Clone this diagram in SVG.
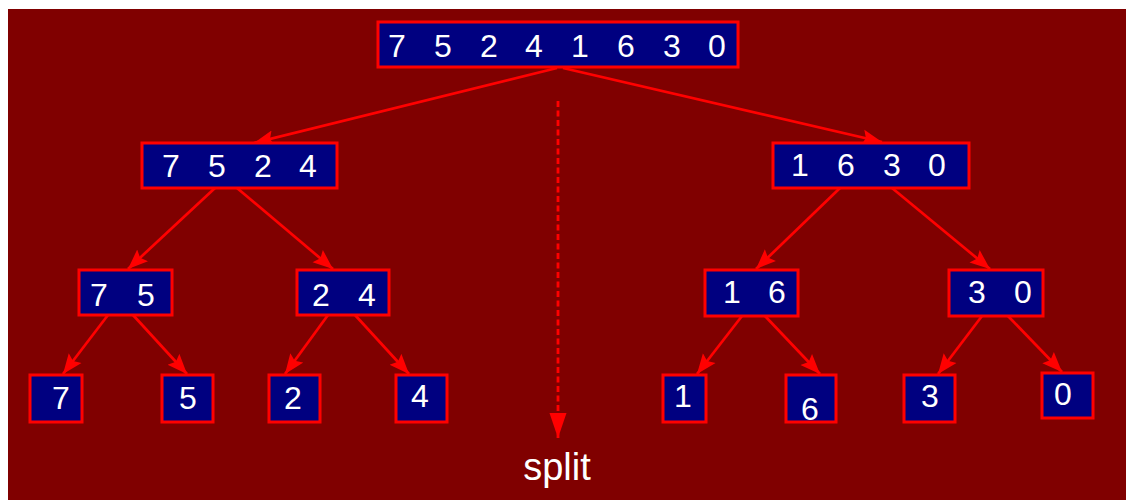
<svg xmlns="http://www.w3.org/2000/svg" width="1126" height="500" viewBox="0 0 1126 500">
<style>
.box{fill:#000080;stroke:#ff0000;stroke-width:3}
.t{font-family:"Liberation Sans",Arial,sans-serif;font-size:32px;fill:#ffffff;text-anchor:middle}
.c{stroke:#ff0000;stroke-width:2.7;fill:none}
.d{stroke:#ff0000;stroke-width:2.8;fill:none;stroke-dasharray:6 3.5}
</style>
<defs>
<marker id="ah" markerUnits="userSpaceOnUse" markerWidth="21" markerHeight="18" refX="20" refY="8.5" orient="auto" viewBox="0 0 21 18">
<path d="M0,0.5 L20,8.5 L0,16.5 L3.5,8.5 z" fill="#ff0000"/>
</marker>
<marker id="ahd" markerUnits="userSpaceOnUse" markerWidth="26" markerHeight="20" refX="25" refY="9" orient="auto" viewBox="0 0 26 20">
<path d="M0,0.5 L25,9 L0,17.5 z" fill="#ff0000"/>
</marker>
</defs>
<rect x="8" y="9" width="1118" height="491" fill="#800000"/>
<g id="connectors">
<line class="c" x1="557" y1="68" x2="254" y2="143" marker-end="url(#ah)"/>
<line class="c" x1="563" y1="68" x2="882" y2="142" marker-end="url(#ah)"/>
<line class="c" x1="215" y1="188" x2="128" y2="269" marker-end="url(#ah)"/>
<line class="c" x1="237" y1="188" x2="333" y2="269" marker-end="url(#ah)"/>
<line class="c" x1="840" y1="188" x2="756" y2="269" marker-end="url(#ah)"/>
<line class="c" x1="892" y1="188" x2="990" y2="269" marker-end="url(#ah)"/>
<line class="c" x1="108" y1="315" x2="63" y2="374" marker-end="url(#ah)"/>
<line class="c" x1="133" y1="315" x2="187" y2="374" marker-end="url(#ah)"/>
<line class="c" x1="328" y1="315" x2="285" y2="374" marker-end="url(#ah)"/>
<line class="c" x1="355" y1="315" x2="409" y2="374" marker-end="url(#ah)"/>
<line class="c" x1="742" y1="316" x2="697" y2="374" marker-end="url(#ah)"/>
<line class="c" x1="765" y1="316" x2="820" y2="374" marker-end="url(#ah)"/>
<line class="c" x1="982" y1="316" x2="938" y2="374" marker-end="url(#ah)"/>
<line class="c" x1="1008" y1="316" x2="1062" y2="372" marker-end="url(#ah)"/>
<line class="d" x1="558" y1="101" x2="558" y2="438" marker-end="url(#ahd)"/>
</g>
<g id="n0"><rect class="box" x="378" y="22" width="360" height="45"/><text class="t" x="397 420 443 466 489 511 534 557 580 603 626 649 672 694 717" y="57">7 5 2 4 1 6 3 0</text></g>
<g id="n1"><rect class="box" x="142" y="143" width="195" height="45"/><text class="t" x="171 194 217 240 263 285 308" y="177">7 5 2 4</text></g>
<g id="n2"><rect class="box" x="773" y="143" width="196" height="45"/><text class="t" x="800 823 846 869 892 914 937" y="176">1 6 3 0</text></g>
<g id="n3"><rect class="box" x="79" y="270" width="93" height="45"/><text class="t" x="99 122 146" y="306">7 5</text></g>
<g id="n4"><rect class="box" x="297" y="270" width="92" height="45"/><text class="t" x="321 344 367" y="306">2 4</text></g>
<g id="n5"><rect class="box" x="705" y="270" width="93" height="46"/><text class="t" x="732 754 777" y="303">1 6</text></g>
<g id="n6"><rect class="box" x="949" y="270" width="94" height="46"/><text class="t" x="977 1000 1023" y="303">3 0</text></g>
<g id="l7"><rect class="box" x="30" y="375" width="52" height="47"/><text class="t" x="61" y="409">7</text></g>
<g id="l5"><rect class="box" x="162" y="375" width="51" height="47"/><text class="t" x="188" y="409">5</text></g>
<g id="l2"><rect class="box" x="269" y="375" width="51" height="47"/><text class="t" x="293" y="409">2</text></g>
<g id="l4"><rect class="box" x="396" y="375" width="51" height="47"/><text class="t" x="420" y="407">4</text></g>
<g id="l1"><rect class="box" x="663" y="375" width="43" height="47"/><text class="t" x="683" y="407">1</text></g>
<g id="l6"><rect class="box" x="786" y="375" width="50" height="47"/><text class="t" x="810" y="420">6</text></g>
<g id="l3"><rect class="box" x="904" y="375" width="51" height="47"/><text class="t" x="930" y="407">3</text></g>
<g id="l0"><rect class="box" x="1042" y="373" width="51" height="45"/><text class="t" x="1063" y="405">0</text></g>
<g id="split"><text x="557" y="480" style="font-family:'Liberation Sans',Arial,sans-serif;font-size:38px;fill:#ffffff;text-anchor:middle">split</text></g>
</svg>
